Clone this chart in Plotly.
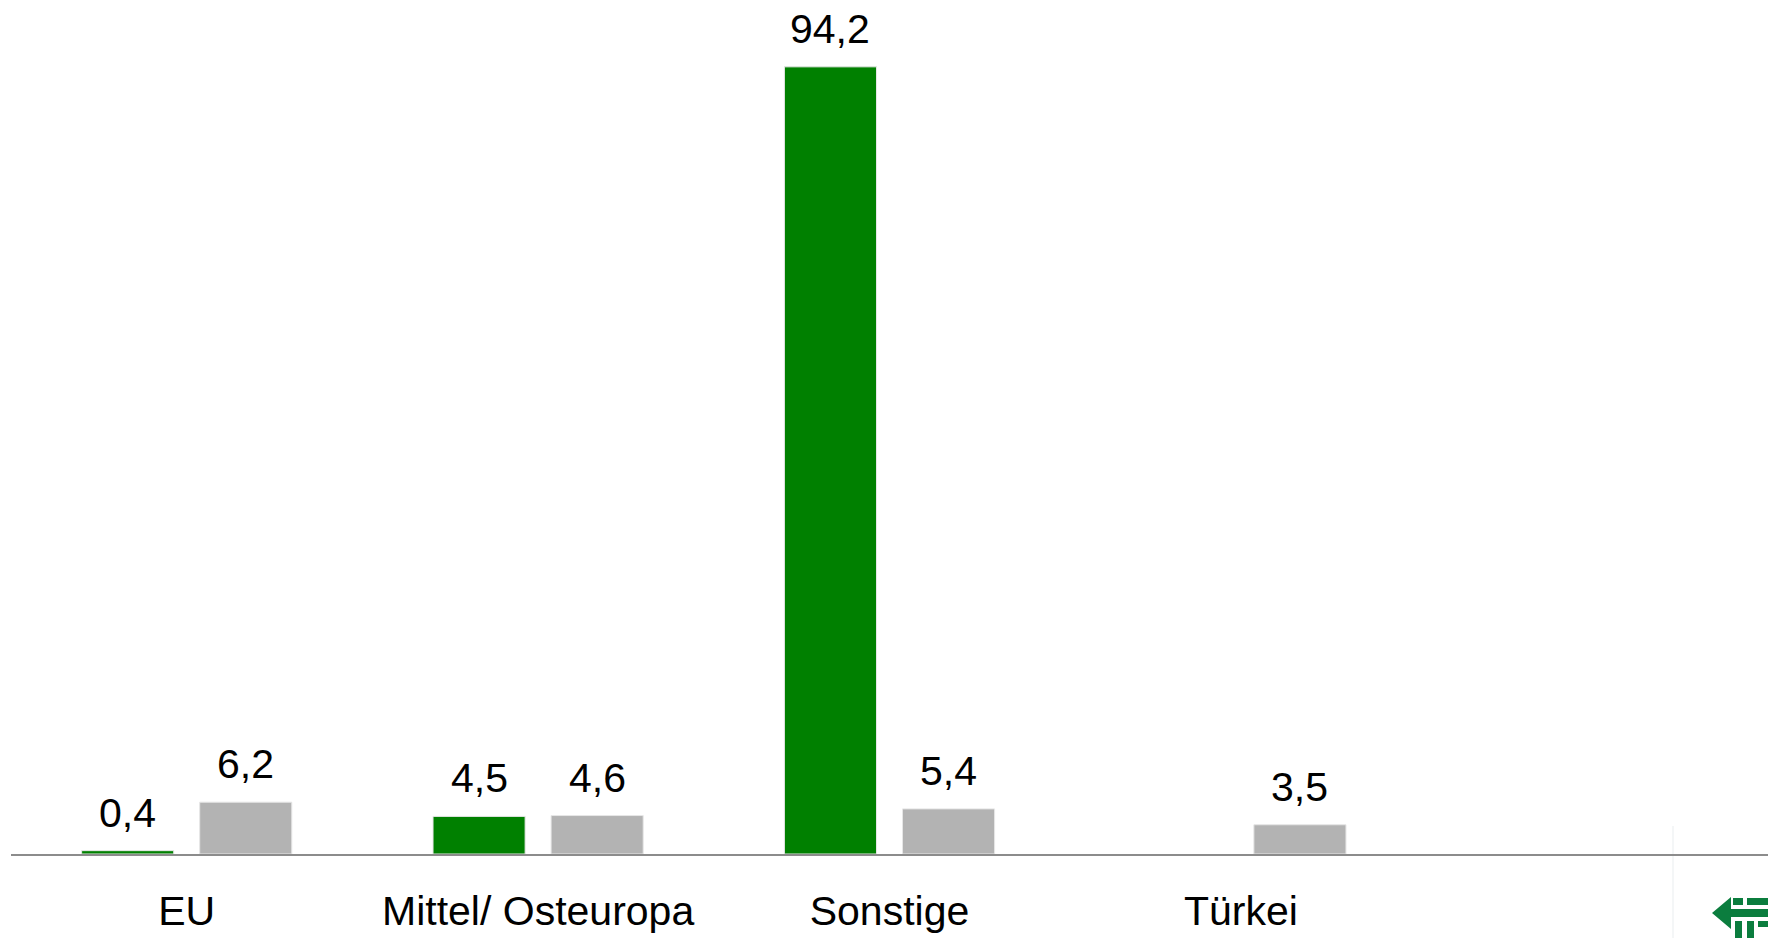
import plotly.graph_objects as go

# Regions on the category axis (last slot intentionally left blank)
regions = ["EU", "Mittel/ Osteuropa", "Sonstige", "Türkei", ""]

# Two series per region (None = no bar)
series_green = [0.4, 4.5, 94.2, None]
series_gray = [6.2, 4.6, 5.4, 3.5]

GREEN = "#008000"
GRAY = "#b3b3b3"
FONT = "Liberation Sans, Arial, sans-serif"
FONT_SIZE = 41

W, H = 1768, 938
M_L, M_R, M_T, M_B = 11, 0, 0, 84
BARGAP = 0.328
BARGROUPGAP = 0.22
Y_MAX = 102.2

x_idx = list(range(len(series_gray)))

fig = go.Figure()
fig.add_trace(go.Bar(
    x=x_idx, y=series_green, marker=dict(color=GREEN, line=dict(color="#e6e6e6", width=1)),
    hoverinfo="skip", name="A",
))
fig.add_trace(go.Bar(
    x=x_idx, y=series_gray, marker=dict(color=GRAY, line=dict(color="#e6e6e6", width=1)),
    hoverinfo="skip", name="B",
))

# value labels above each bar
slot_offset = (1 - BARGAP) / 4


def fmt(v):
    return f"{v:.1f}".replace(".", ",")


annotations = []
for sign, vals in ((-1, series_green), (1, series_gray)):
    for i, v in enumerate(vals):
        if v is None:
            continue
        annotations.append(dict(
            x=i + sign * slot_offset, y=v, xref="x", yref="y",
            text=fmt(v), showarrow=False, yanchor="bottom", yshift=13,
            font=dict(family=FONT, size=FONT_SIZE, color="#000000"),
        ))


# helpers to place decoration in page pixels
plot_w = W - M_L - M_R
plot_h = H - M_T - M_B


def px_x(x):
    return (x - M_L) / plot_w


def px_y(y):
    return (H - M_B - y) / plot_h


shapes = [
    # faint separator at the lower right
    dict(type="line", xref="paper", yref="paper",
         x0=px_x(1673), x1=px_x(1673), y0=px_y(826), y1=px_y(938),
         line=dict(color="#f1f3f5", width=1.5), layer="below"),
]

# small arrow emblem in the corner
LOGO = "#0b7d3e"
arrow_path = "M {} {} L {} {} L {} {} Z".format(
    px_x(1712), px_y(913), px_x(1731), px_y(897), px_x(1731), px_y(929))
shapes.append(dict(type="path", xref="paper", yref="paper", path=arrow_path,
                   fillcolor=LOGO, line=dict(width=0)))
for (x0, y0, x1, y1) in [
    (1733, 898, 1743, 905), (1747, 898, 1768, 905),
    (1729, 909, 1768, 917),
    (1735, 921, 1742, 938), (1747, 921, 1754, 938), (1758, 921, 1768, 927),
]:
    shapes.append(dict(type="rect", xref="paper", yref="paper",
                       x0=px_x(x0), x1=px_x(x1), y0=px_y(y1), y1=px_y(y0),
                       fillcolor=LOGO, line=dict(width=0)))

fig.update_layout(
    width=W, height=H,
    margin=dict(l=M_L, r=M_R, t=M_T, b=M_B),
    paper_bgcolor="white", plot_bgcolor="white",
    barmode="group", bargap=BARGAP, bargroupgap=BARGROUPGAP,
    showlegend=False,
    annotations=annotations,
    shapes=shapes,
    xaxis=dict(
        range=[-0.5, len(regions) - 0.5],
        tickmode="array", tickvals=list(range(len(regions))), ticktext=regions,
        tickfont=dict(family=FONT, size=FONT_SIZE, color="#000000"),
        showline=True, linecolor="#8c8c8c", linewidth=1.5,
        showgrid=False, zeroline=False, ticks="", ticklabelstandoff=20,
        automargin=False, fixedrange=True,
    ),
    yaxis=dict(
        range=[0, Y_MAX], visible=False, showgrid=False, zeroline=False,
        automargin=False, fixedrange=True,
    ),
)

fig.write_html("out.html", config={"displayModeBar": False})
